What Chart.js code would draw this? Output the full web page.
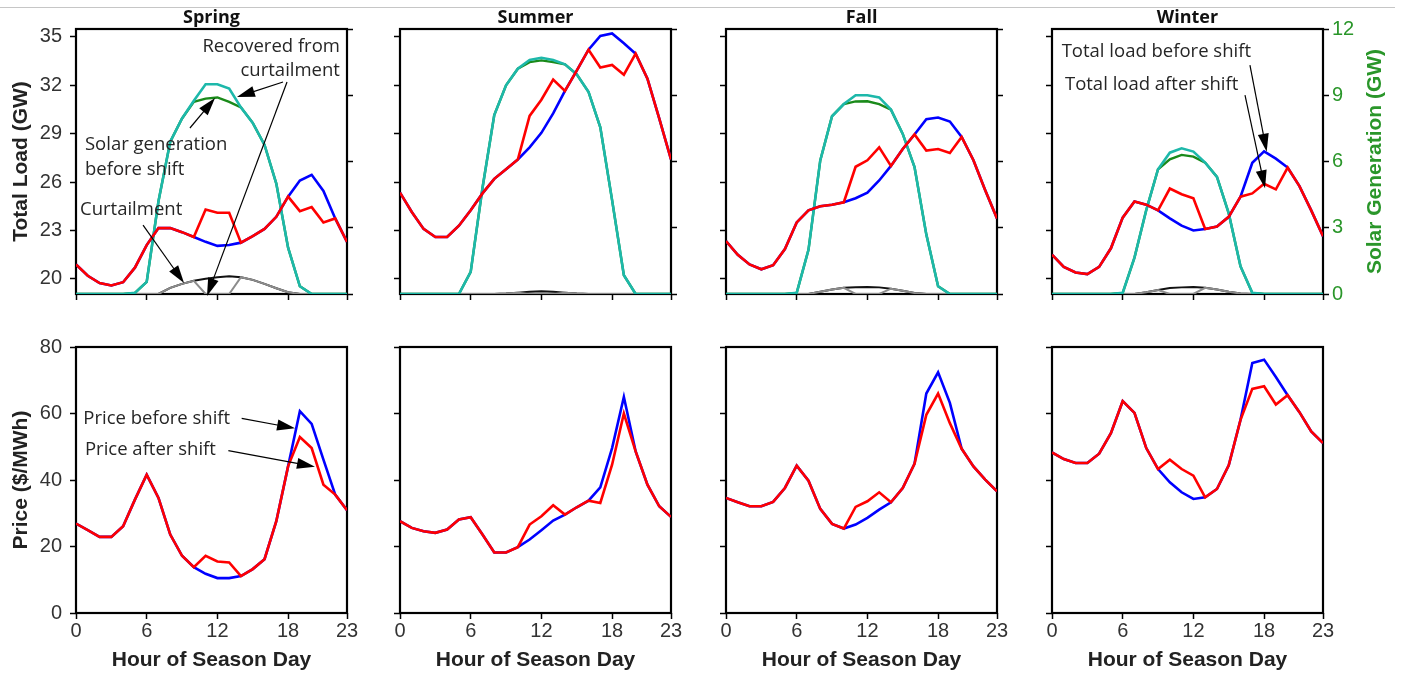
<!DOCTYPE html>
<html>
<head>
<meta charset="utf-8">
<title>Load shifting by season</title>
<script src="https://cdn.jsdelivr.net/npm/chart.js@4.4.0/dist/chart.umd.min.js"></script>
<style>
  body { margin: 0; background: #fff; }
  #wrap { position: relative; width: 1401px; height: 674px; overflow: hidden; background: #fff; }
  #wrap canvas { position: absolute; left: 0; top: 0; }
  #rule { position: absolute; left: 0; top: 7px; width: 1395px; border-top: 1px solid #c6c6c6; }
</style>
</head>
<body>
<div id="wrap"><div id="rule"></div></div>
<script>
//Hours and axis ticks
const hours = [0,1,2,3,4,5,6,7,8,9,10,11,12,13,14,15,16,17,18,19,20,21,22,23];
const hourTicks = [0, 6, 12, 18, 23];
const loadTicks = [20, 23, 26, 29, 32, 35];
const solarTicks = [0, 3, 6, 9, 12];
const priceTicks = [0, 20, 40, 60, 80];
const seasons = ['Spring', 'Summer', 'Fall', 'Winter'];

//Total load (GW)
const springLoadBefore = [20.9,20.2,19.75,19.6,19.8,20.7,22.1,23.15,23.15,22.9,22.6,22.3,22.05,22.1,22.25,22.65,23.1,23.85,25.1,26.1,26.45,25.45,23.75,22.3];
const springLoadAfter  = [20.9,20.2,19.75,19.6,19.8,20.7,22.1,23.15,23.15,22.9,22.6,24.3,24.1,24.1,22.25,22.65,23.1,23.85,25.1,24.2,24.45,23.5,23.75,22.3];
const summerLoadBefore = [25.35,24.15,23.1,22.6,22.6,23.3,24.25,25.3,26.2,26.8,27.4,28.15,29.05,30.25,31.65,32.9,34.2,35.05,35.2,34.6,33.95,32.4,29.95,27.4];
const summerLoadAfter  = [25.35,24.15,23.1,22.6,22.6,23.3,24.25,25.3,26.2,26.8,27.4,30.1,31.1,32.35,31.65,32.9,34.2,33.1,33.25,32.65,33.95,32.4,29.95,27.4];
const fallLoadBefore   = [22.35,21.5,20.9,20.6,20.85,21.85,23.5,24.25,24.5,24.6,24.75,25.0,25.35,26.1,27.0,28.05,28.95,29.9,30.0,29.75,28.8,27.35,25.5,23.75];
const fallLoadAfter    = [22.35,21.5,20.9,20.6,20.85,21.85,23.5,24.25,24.5,24.6,24.75,26.95,27.35,28.15,27.0,28.05,28.95,27.95,28.05,27.8,28.8,27.35,25.5,23.75];
const winterLoadBefore = [21.5,20.75,20.4,20.3,20.75,21.9,23.8,24.8,24.6,24.25,23.75,23.3,23.0,23.1,23.25,23.85,25.1,27.2,27.9,27.45,26.9,25.75,24.25,22.65];
const winterLoadAfter  = [21.5,20.75,20.4,20.3,20.75,21.9,23.8,24.8,24.6,24.25,25.6,25.25,25.0,23.1,23.25,23.85,25.1,25.3,25.9,25.55,26.9,25.75,24.25,22.65];

//Solar generation (GW)
const springSolarBefore = [0,0,0,0,0,0.05,0.55,4.2,6.9,7.95,8.7,8.85,8.9,8.7,8.45,7.75,6.75,5.0,2.1,0.35,0,0,0,0];
const springSolarAfter  = [0,0,0,0,0,0.05,0.55,4.2,6.9,7.95,8.75,9.5,9.5,9.3,8.45,7.75,6.75,5.0,2.1,0.35,0,0,0,0];
const summerSolarBefore = [0,0,0,0,0,0,1.0,4.8,8.1,9.45,10.2,10.5,10.58,10.5,10.4,9.95,9.15,7.55,4.25,0.85,0,0,0,0];
const summerSolarAfter  = [0,0,0,0,0,0,1.0,4.8,8.1,9.45,10.2,10.6,10.7,10.6,10.4,9.95,9.15,7.55,4.25,0.85,0,0,0,0];
const fallSolarBefore   = [0,0,0,0,0,0,0.05,2.0,6.05,8.05,8.6,8.72,8.73,8.6,8.35,7.25,5.75,2.7,0.35,0,0,0,0,0];
const fallSolarAfter    = [0,0,0,0,0,0,0.05,2.0,6.05,8.05,8.6,9.0,9.0,8.9,8.35,7.25,5.75,2.7,0.35,0,0,0,0,0];
const winterSolarBefore = [0,0,0,0,0,0,0.05,1.65,3.8,5.65,6.1,6.3,6.22,5.95,5.3,3.65,1.25,0.05,0,0,0,0,0,0];
const winterSolarAfter  = [0,0,0,0,0,0,0.05,1.65,3.8,5.65,6.4,6.6,6.45,5.95,5.3,3.65,1.25,0.05,0,0,0,0,0,0];

//Curtailment (GW)
const springCurtBefore = [0,0,0,0,0,0,0,0,0.28,0.46,0.6,0.69,0.76,0.8,0.76,0.64,0.46,0.26,0.08,0,0,0,0,0];
const springCurtAfter  = [0,0,0,0,0,0,0,0,0.28,0.46,0.6,0,0,0,0.76,0.64,0.46,0.26,0.08,0,0,0,0,0];
const summerCurtBefore = [0,0,0,0,0,0,0,0,0,0.02,0.06,0.1,0.12,0.1,0.06,0.02,0,0,0,0,0,0,0,0];
const summerCurtAfter  = [0,0,0,0,0,0,0,0,0,0.02,0.06,0,0,0,0.06,0.02,0,0,0,0,0,0,0,0];
const fallCurtBefore   = [0,0,0,0,0,0,0,0,0.1,0.2,0.28,0.31,0.32,0.3,0.24,0.15,0.05,0,0,0,0,0,0,0];
const fallCurtAfter    = [0,0,0,0,0,0,0,0,0.1,0.2,0.28,0,0,0,0.24,0.15,0.05,0,0,0,0,0,0,0];
const winterCurtBefore = [0,0,0,0,0,0,0,0,0.08,0.18,0.27,0.3,0.32,0.28,0.2,0.1,0.02,0,0,0,0,0,0,0];
const winterCurtAfter  = [0,0,0,0,0,0,0,0,0.08,0.18,0,0,0,0.28,0.2,0.1,0.02,0,0,0,0,0,0,0];

//Price ($/MWh)
const springPriceBefore = [26.9,24.9,22.9,22.9,26.1,34.1,41.6,34.6,23.6,17.2,13.8,11.8,10.5,10.5,11.1,13.2,16.2,27.6,44.1,60.7,56.9,46.1,35.6,30.9];
const springPriceAfter  = [26.9,24.9,22.9,22.9,26.1,34.1,41.6,34.6,23.6,17.2,13.8,17.2,15.5,15.2,11.1,13.2,16.2,27.6,44.1,52.9,49.6,38.6,35.6,30.9];
const summerPriceBefore = [27.6,25.6,24.6,24.1,25.1,28.1,28.8,23.6,18.2,18.2,19.8,22.1,24.9,27.8,29.6,31.8,33.8,37.8,49.6,65.0,48.6,38.6,32.1,28.9];
const summerPriceAfter  = [27.6,25.6,24.6,24.1,25.1,28.1,28.8,23.6,18.2,18.2,19.8,26.6,29.1,32.4,29.6,31.8,33.8,33.1,44.6,60.0,48.6,38.6,32.1,28.9];
const fallPriceBefore   = [34.6,33.3,32.1,32.1,33.4,37.6,44.3,39.8,31.3,26.8,25.4,26.6,28.6,31.1,33.3,37.6,44.9,66.0,72.4,63.2,49.4,44.1,40.1,36.6];
const fallPriceAfter    = [34.6,33.3,32.1,32.1,33.4,37.6,44.3,39.8,31.3,26.8,25.4,31.9,33.6,36.3,33.3,37.6,44.9,59.6,66.0,57.1,49.4,44.1,40.1,36.6];
const winterPriceBefore = [48.3,46.3,45.1,45.1,47.9,54.1,63.7,60.2,49.6,43.3,39.3,36.3,34.3,34.8,37.3,44.4,58.1,75.2,76.2,71.0,65.5,60.4,54.6,51.1];
const winterPriceAfter  = [48.3,46.3,45.1,45.1,47.9,54.1,63.7,60.2,49.6,43.3,46.1,43.3,41.3,34.8,37.3,44.4,58.1,67.4,68.2,62.7,65.5,60.4,54.6,51.1];

const loadBefore = [springLoadBefore, summerLoadBefore, fallLoadBefore, winterLoadBefore];
const loadAfter = [springLoadAfter, summerLoadAfter, fallLoadAfter, winterLoadAfter];
const solarBefore = [springSolarBefore, summerSolarBefore, fallSolarBefore, winterSolarBefore];
const solarAfter = [springSolarAfter, summerSolarAfter, fallSolarAfter, winterSolarAfter];
const curtBefore = [springCurtBefore, summerCurtBefore, fallCurtBefore, winterCurtBefore];
const curtAfter = [springCurtAfter, summerCurtAfter, fallCurtAfter, winterCurtAfter];
const priceBefore = [springPriceBefore, summerPriceBefore, fallPriceBefore, winterPriceBefore];
const priceAfter = [springPriceAfter, summerPriceAfter, fallPriceAfter, winterPriceAfter];

//Callouts, placed in (hour, axis value) units
const springTopNotes = [
    { text: 'Recovered from', x: 22.4, y: 34.41, align: 'right' },
    { text: 'curtailment', x: 22.4, y: 32.92, align: 'right' },
    { text: 'Solar generation', x: 0.76, y: 28.3, align: 'left' },
    { text: 'before shift', x: 0.76, y: 26.75, align: 'left' },
    { text: 'Curtailment', x: 0.34, y: 24.27, align: 'left' }
];
const springTopArrows = [
    { from: [17.57, 32.2], to: [13.66, 31.27] },
    { from: [17.91, 32.2], to: [11.12, 18.95] },
    { from: [9.67, 29.35], to: [11.8, 31.21] },
    { from: [5.69, 23.34], to: [9.17, 19.75] }
];
const winterTopNotes = [
    { text: 'Total load before shift', x: 0.82, y: 34.05, align: 'left' },
    { text: 'Total load after shift', x: 1.1, y: 32.04, align: 'left' }
];
const winterTopArrows = [
    { from: [16.8, 33.25], to: [18.22, 27.88] },
    { from: [16.38, 31.39], to: [18.08, 25.62] }
];
const springPriceNotes = [
    { text: 'Price before shift', x: 0.62, y: 58.56, align: 'left' },
    { text: 'Price after shift', x: 0.76, y: 49.02, align: 'left' }
];
const springPriceArrows = [
    { from: [14.06, 58.56], to: [18.59, 55.55] },
    { from: [12.93, 48.81], to: [20.28, 44.0] }
];

//Page layout
const W = 1401, H = 674;
const colLeft = [76, 400, 726, 1052];
const panelW = 271;
const topRow = { top: 29, bottom: 294 };
const lowRow = { top: 347, bottom: 613 };
const solarGreen = '#2a962a';

Chart.defaults.font.family = "'Liberation Sans', Arial, sans-serif";
Chart.defaults.animation = false;

//Black box around each panel
const frame = {
    id: 'frame',
    beforeDatasetsDraw(chart) {
        const a = chart.chartArea;
        const c = chart.ctx;
        c.save();
        c.strokeStyle = '#000';
        c.lineWidth = 2.2;
        c.strokeRect(a.left, a.top, a.right - a.left, a.bottom - a.top);
        c.restore();
    }
};

function drawArrow(c, x1, y1, x2, y2) {
    const ang = Math.atan2(y2 - y1, x2 - x1);
    const len = 18, half = 5.5;
    const cos = Math.cos(ang), sin = Math.sin(ang);
    c.beginPath();
    c.moveTo(x1, y1);
    c.lineTo(x2 - cos * len * 0.7, y2 - sin * len * 0.7);
    c.stroke();
    c.beginPath();
    c.moveTo(x2, y2);
    c.lineTo(x2 - cos * len + sin * half, y2 - sin * len - cos * half);
    c.lineTo(x2 - cos * len - sin * half, y2 - sin * len + cos * half);
    c.closePath();
    c.fill();
}

//Season titles, callout text with arrows and the solar axis title
const notes = {
    id: 'notes',
    afterDraw(chart, args, opts) {
        const c = chart.ctx;
        const a = chart.chartArea;
        const xs = chart.scales.x, ys = chart.scales.y;
        c.save();
        if (opts.title) {
            c.font = "bold 18px 'Open Sans'";
            c.fillStyle = '#111';
            c.textAlign = 'center';
            c.textBaseline = 'alphabetic';
            c.fillText(opts.title, (a.left + a.right) / 2, a.top - 6.5);
        }
        c.font = "18.5px 'Open Sans'";
        c.fillStyle = '#262626';
        c.textBaseline = 'middle';
        (opts.texts || []).forEach(t => {
            c.textAlign = t.align;
            c.fillText(t.text, xs.getPixelForValue(t.x), ys.getPixelForValue(t.y));
        });
        c.strokeStyle = '#000';
        c.fillStyle = '#000';
        c.lineWidth = 1.2;
        (opts.arrows || []).forEach(r => {
            drawArrow(c, xs.getPixelForValue(r.from[0]), ys.getPixelForValue(r.from[1]),
                xs.getPixelForValue(r.to[0]), ys.getPixelForValue(r.to[1]));
        });
        if (opts.sideTitle) {
            c.translate(a.right + 52, (a.top + a.bottom) / 2);
            c.rotate(-Math.PI / 2);
            c.font = "bold 21px 'Liberation Sans', Arial";
            c.fillStyle = solarGreen;
            c.textAlign = 'center';
            c.fillText(opts.sideTitle, 0, 0);
        }
        c.restore();
    }
};

function series(values, color, width, axis) {
    return {
        data: hours.map((h, i) => ({ x: h, y: values[i] })),
        borderColor: color,
        borderWidth: width,
        pointRadius: 0,
        fill: false,
        tension: 0,
        yAxisID: axis
    };
}

const tickGrid = { drawOnChartArea: false, drawTicks: true, tickLength: 6, tickColor: '#000', tickWidth: 1.5 };

function hourAxis(showLabels) {
    return {
        type: 'linear',
        position: 'bottom',
        min: 0,
        max: 23,
        afterBuildTicks: s => { s.ticks = hourTicks.map(v => ({ value: v })); },
        afterFit: s => { s.height = showLabels ? 60 : 10; },
        ticks: { display: showLabels, padding: 0, color: '#333', font: { size: 20 }, maxRotation: 0, autoSkip: false },
        grid: tickGrid,
        border: { display: false },
        title: {
            display: showLabels,
            text: 'Hour of Season Day',
            color: '#222',
            font: { size: 21, weight: 'bold' },
            padding: { top: 0, bottom: 0 }
        }
    };
}

function addCanvas() {
    const cv = document.createElement('canvas');
    cv.width = W;
    cv.height = H;
    document.getElementById('wrap').appendChild(cv);
    return cv.getContext('2d');
}

//Top row: load and solar
seasons.forEach((season, i) => {
    const wl = i === 0 ? 76 : 10;
    const wr = i === 3 ? 40 : 10;
    const ctx = addCanvas();
    new Chart(ctx, {
        type: 'line',
        data: {
            datasets: [
                series(loadAfter[i], '#ff0000', 2.6, 'y'),
                series(loadBefore[i], '#0000ff', 2.6, 'y'),
                series(solarAfter[i], '#1db8aa', 2.6, 'y2'),
                series(solarBefore[i], '#1a8a1a', 2.4, 'y2'),
                series(curtAfter[i], '#8c8c8c', 2, 'y2'),
                series(curtBefore[i], '#111111', 2, 'y2')
            ]
        },
        options: {
            responsive: false,
            devicePixelRatio: 1,
            layout: {
                padding: {
                    left: colLeft[i] - wl,
                    right: W - (colLeft[i] + panelW) - wr,
                    top: topRow.top,
                    bottom: H - topRow.bottom - 10
                }
            },
            scales: {
                x: hourAxis(false),
                y: {
                    type: 'linear',
                    position: 'left',
                    min: 19.07,
                    max: 35.48,
                    afterBuildTicks: s => { s.ticks = loadTicks.map(v => ({ value: v })); },
                    afterFit: s => { s.width = wl; },
                    ticks: { display: i === 0, padding: 8, color: '#333', font: { size: 20 } },
                    grid: tickGrid,
                    border: { display: false },
                    title: {
                        display: i === 0,
                        text: 'Total Load (GW)',
                        color: '#222',
                        font: { size: 21, weight: 'bold' },
                        padding: { top: 9, bottom: 0 }
                    }
                },
                y2: {
                    type: 'linear',
                    position: 'right',
                    min: 0,
                    max: 12,
                    afterBuildTicks: s => { s.ticks = solarTicks.map(v => ({ value: v })); },
                    afterFit: s => { s.width = wr; },
                    ticks: { display: i === 3, padding: 3, color: solarGreen, font: { size: 20 } },
                    grid: tickGrid,
                    border: { display: false }
                }
            },
            plugins: {
                legend: { display: false },
                tooltip: { enabled: false },
                notes: {
                    title: season,
                    texts: i === 0 ? springTopNotes : (i === 3 ? winterTopNotes : []),
                    arrows: i === 0 ? springTopArrows : (i === 3 ? winterTopArrows : []),
                    sideTitle: i === 3 ? 'Solar Generation (GW)' : ''
                }
            }
        },
        plugins: [frame, notes]
    });
});

//Bottom row: price
seasons.forEach((season, i) => {
    const wl = i === 0 ? 76 : 10;
    const ctx = addCanvas();
    new Chart(ctx, {
        type: 'line',
        data: {
            datasets: [
                series(priceAfter[i], '#ff0000', 2.6, 'y'),
                series(priceBefore[i], '#0000ff', 2.6, 'y')
            ]
        },
        options: {
            responsive: false,
            devicePixelRatio: 1,
            layout: {
                padding: {
                    left: colLeft[i] - wl,
                    right: W - (colLeft[i] + panelW),
                    top: lowRow.top,
                    bottom: H - lowRow.bottom - 60
                }
            },
            scales: {
                x: hourAxis(true),
                y: {
                    type: 'linear',
                    position: 'left',
                    min: 0,
                    max: 80,
                    afterBuildTicks: s => { s.ticks = priceTicks.map(v => ({ value: v })); },
                    afterFit: s => { s.width = wl; },
                    ticks: { display: i === 0, padding: 8, color: '#333', font: { size: 20 } },
                    grid: tickGrid,
                    border: { display: false },
                    title: {
                        display: i === 0,
                        text: 'Price ($/MWh)',
                        color: '#222',
                        font: { size: 21, weight: 'bold' },
                        padding: { top: 9, bottom: 0 }
                    }
                }
            },
            plugins: {
                legend: { display: false },
                tooltip: { enabled: false },
                notes: {
                    texts: i === 0 ? springPriceNotes : [],
                    arrows: i === 0 ? springPriceArrows : []
                }
            }
        },
        plugins: [frame, notes]
    });
});
</script>
</body>
</html>
